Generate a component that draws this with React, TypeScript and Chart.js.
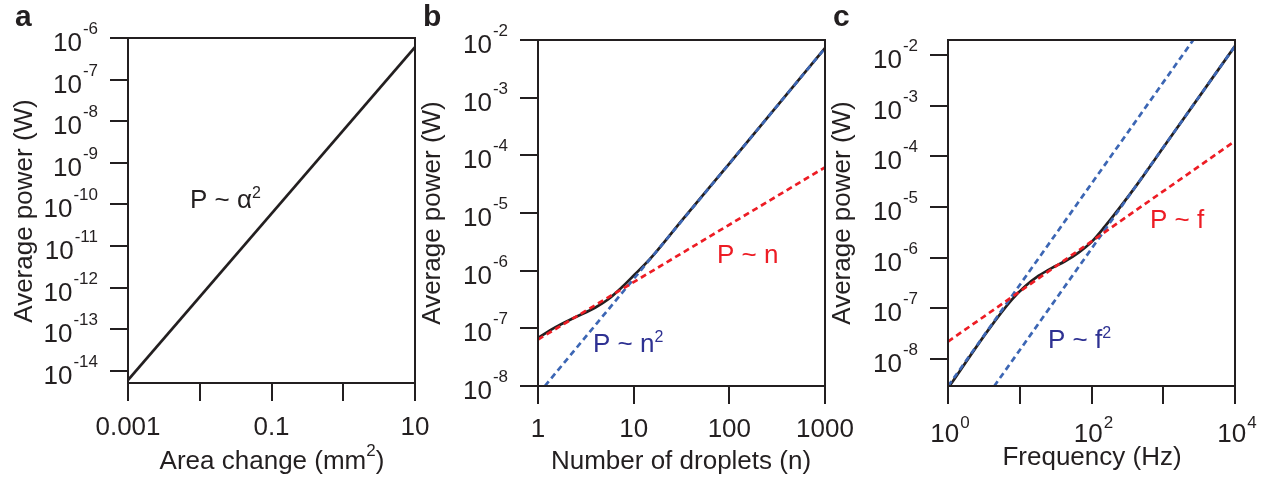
import React, { useEffect, useRef } from 'react';
import { Chart, registerables } from 'chart.js';

Chart.register(...registerables);

const W = 1270;
const H = 481;
const FONT = '"Liberation Sans", Arial, Helvetica, sans-serif';
const INK = '#231f20';
const RED = '#ed1c24';
const BLUE_LINE = '#3c66b4';
const BLUE_TEXT = '#2e3192';

// ---------- Panel a: Area change ----------
const areaChange = [0.001, 10];
const areaPower = [6e-15, 6e-7];
const areaXTicks = [0.001, 0.01, 0.1, 1, 10];
const areaXLabels = ['0.001', '', '0.1', '', '10'];
const areaYTicks = [1e-14, 1e-13, 1e-12, 1e-11, 1e-10, 1e-9, 1e-8, 1e-7, 1e-6];
const areaYExps = ['-14', '-13', '-12', '-11', '-10', '-9', '-8', '-7', '-6'];

// ---------- Panel b: Number of droplets ----------
const dropletN = [1, 1.51, 2.45, 3.98, 5.43, 7.48, 10.2, 13, 16.6, 31.6, 100, 1000];
const dropletPower = [6.8e-8, 1.04e-7, 1.56e-7, 2.3e-7, 3.2e-7, 5.1e-7, 8.5e-7, 1.27e-6, 1.98e-6, 7.3e-6, 7.2e-5, 7.2e-3];
const dropletLinN = [1, 1000];
const dropletLinP = [6.4e-8, 6.2e-5];
const dropletSqN = [1.18, 1000];
const dropletSqP = [1e-8, 7.2e-3];
const dropletXTicks = [1, 10, 100, 1000];
const dropletXLabels = ['1', '10', '100', '1000'];
const dropletYTicks = [1e-8, 1e-7, 1e-6, 1e-5, 1e-4, 1e-3, 1e-2];
const dropletYExps = ['-8', '-7', '-6', '-5', '-4', '-3', '-2'];

// ---------- Panel c: Frequency ----------
const freq = [1.08, 3.68, 7.82, 12, 18.4, 28.2, 43.3, 66, 102, 155, 240, 457, 1000, 10000];
const freqPower = [3.1e-9, 3.8e-8, 1.5e-7, 2.75e-7, 4.4e-7, 6.3e-7, 8.6e-7, 1.26e-6, 2.1e-6, 4.2e-6, 9.2e-6, 3.1e-5, 1.5e-4, 1.5e-2];
const freqLinF = [1, 10000];
const freqLinP = [2.2e-8, 2.0e-4];
const freqSq1F = [1, 2760];
const freqSq1P = [2.9e-9, 2.2e-2];
const freqSq2F = [4.4, 10000];
const freqSq2P = [2.9e-9, 1.5e-2];
const freqXTicks = [1, 10, 100, 1000, 10000];
const freqXExps = ['0', '', '2', '', '4'];
const freqYTicks = [1e-8, 1e-7, 1e-6, 1e-5, 1e-4, 1e-3, 1e-2];
const freqYExps = ['-8', '-7', '-6', '-5', '-4', '-3', '-2'];

type Box = { left: number; right: number; top: number; bottom: number };
type Part = { t: string; size: number; raise?: number; bold?: boolean; gap?: number };

const xy = (xs: number[], ys: number[]) => xs.map((x, i) => ({ x, y: ys[i] }));

function drawParts(ctx: CanvasRenderingContext2D, parts: Part[], x: number, y: number, color: string, align: 'left' | 'center' | 'right' = 'left') {
  ctx.save();
  ctx.fillStyle = color;
  ctx.textAlign = 'left';
  ctx.textBaseline = 'alphabetic';
  let total = 0;
  const widths = parts.map((p) => {
    ctx.font = `${p.bold ? 'bold ' : ''}${p.size}px ${FONT}`;
    const w = ctx.measureText(p.t).width + (p.gap || 0);
    total += w;
    return w;
  });
  let x0 = x;
  if (align === 'center') x0 = x - total / 2;
  if (align === 'right') x0 = x - total;
  let cx = x0;
  parts.forEach((p, i) => {
    ctx.font = `${p.bold ? 'bold ' : ''}${p.size}px ${FONT}`;
    ctx.fillText(p.t, cx + (p.gap || 0), y - (p.raise || 0));
    cx += widths[i];
  });
  ctx.restore();
}

const pow = (exp: string, main = 26, sup = 17, raise = 17): Part[] => [
  { t: '10', size: main },
  { t: exp, size: sup, raise, gap: 1 },
];

type Spec = {
  box: Box;
  xMin: number; xMax: number; yMin: number; yMax: number;
  xTicks: number[]; yTicks: number[];
  datasets: any[];
  decorate: (chart: any, ctx: CanvasRenderingContext2D) => void;
};

function buildChart(canvas: HTMLCanvasElement, spec: Spec) {
  const { box } = spec;
  const framePlugin = {
    id: 'frameAndText',
    afterDatasetsDraw(chart: any) {
      const ctx = chart.ctx as CanvasRenderingContext2D;
      const a = chart.chartArea;
      ctx.save();
      ctx.strokeStyle = INK;
      ctx.lineWidth = 2;
      ctx.strokeRect(a.left, a.top, a.right - a.left, a.bottom - a.top);
      ctx.restore();
    },
    afterDraw(chart: any) {
      spec.decorate(chart, chart.ctx);
    },
  };
  return new Chart(canvas, {
    type: 'line',
    data: { datasets: spec.datasets },
    options: {
      responsive: false,
      maintainAspectRatio: false,
      animation: false,
      events: [],
      layout: { padding: { left: box.left - 20, right: W - box.right, top: box.top, bottom: 0 } },
      plugins: { legend: { display: false }, tooltip: { enabled: false }, title: { display: false } },
      elements: { point: { radius: 0 } },
      scales: {
        x: {
          type: 'logarithmic',
          min: spec.xMin,
          max: spec.xMax,
          bounds: 'data',
          grid: { display: true, drawOnChartArea: false, drawTicks: true, tickLength: 18, color: INK, lineWidth: 2 },
          border: { display: false },
          ticks: { display: false },
          afterBuildTicks: (s: any) => { s.ticks = spec.xTicks.map((v) => ({ value: v })); },
          afterFit: (s: any) => { s.height = H - box.bottom; },
        },
        y: {
          type: 'logarithmic',
          min: spec.yMin,
          max: spec.yMax,
          bounds: 'data',
          grid: { display: true, drawOnChartArea: false, drawTicks: true, tickLength: 18, color: INK, lineWidth: 2 },
          border: { display: false },
          ticks: { display: false },
          afterBuildTicks: (s: any) => { s.ticks = spec.yTicks.map((v) => ({ value: v })); },
          afterFit: (s: any) => { s.width = 20; },
        },
      },
    } as any,
    plugins: [framePlugin],
  });
}

const solid = (data: any[]) => ({ data, borderColor: INK, borderWidth: 2.7, pointRadius: 0, fill: false, cubicInterpolationMode: 'monotone', order: 2 });
const dashed = (data: any[], color: string) => ({ data, borderColor: color, borderWidth: 2.7, borderDash: [6, 4], pointRadius: 0, fill: false, order: 1 });

function yTitle(ctx: CanvasRenderingContext2D, cx: number, cy: number) {
  ctx.save();
  ctx.translate(cx + 6.8, cy);
  ctx.rotate(-Math.PI / 2);
  drawParts(ctx, [{ t: 'Average power (W)', size: 26 }], 0, 0, INK, 'center');
  ctx.restore();
}

function yLabels(chart: any, ctx: CanvasRenderingContext2D, ticks: number[], exps: string[]) {
  const s = chart.scales.y;
  const xr = chart.chartArea.left - 30;
  ticks.forEach((v, i) => {
    const y = s.getPixelForValue(v);
    drawParts(ctx, pow(exps[i]), xr, y + 13, INK, 'right');
  });
}

const specA: Spec = {
  box: { left: 128, right: 415, top: 38, bottom: 383 },
  xMin: 0.001, xMax: 10, yMin: 5.1e-15, yMax: 1e-6,
  xTicks: areaXTicks, yTicks: areaYTicks,
  datasets: [solid(xy(areaChange, areaPower))],
  decorate: (chart, ctx) => {
    yLabels(chart, ctx, areaYTicks, areaYExps);
    const sx = chart.scales.x;
    areaXTicks.forEach((v, i) => {
      if (areaXLabels[i]) drawParts(ctx, [{ t: areaXLabels[i], size: 26 }], sx.getPixelForValue(v), 435, INK, 'center');
    });
    drawParts(ctx, [{ t: 'Area change (mm', size: 26 }, { t: '2', size: 17, raise: 13 }, { t: ')', size: 26 }], 272, 469, INK, 'center');
    yTitle(ctx, 25, 211);
    drawParts(ctx, [{ t: 'a', size: 30, bold: true }], 15, 26, INK);
    drawParts(ctx, [{ t: 'P ~ α', size: 26 }, { t: '2', size: 16, raise: 10 }], 190, 208, INK, 'left');
  },
};

const specB: Spec = {
  box: { left: 538, right: 825, top: 40, bottom: 386 },
  xMin: 1, xMax: 1000, yMin: 1e-8, yMax: 1e-2,
  xTicks: dropletXTicks, yTicks: dropletYTicks,
  datasets: [
    solid(xy(dropletN, dropletPower)),
    dashed(xy(dropletLinN, dropletLinP), RED),
    dashed(xy(dropletSqN, dropletSqP), BLUE_LINE),
  ],
  decorate: (chart, ctx) => {
    yLabels(chart, ctx, dropletYTicks, dropletYExps);
    const sx = chart.scales.x;
    dropletXTicks.forEach((v, i) => {
      drawParts(ctx, [{ t: dropletXLabels[i], size: 26 }], sx.getPixelForValue(v), 437, INK, 'center');
    });
    drawParts(ctx, [{ t: 'Number of droplets (n)', size: 26 }], 681, 469, INK, 'center');
    yTitle(ctx, 433, 213);
    drawParts(ctx, [{ t: 'b', size: 30, bold: true }], 423, 26, INK);
    drawParts(ctx, [{ t: 'P ~ n', size: 26 }], 717, 263, RED, 'left');
    drawParts(ctx, [{ t: 'P ~ n', size: 26 }, { t: '2', size: 16, raise: 10 }], 593, 352, BLUE_TEXT, 'left');
  },
};

const specC: Spec = {
  box: { left: 948, right: 1235, top: 40, bottom: 386 },
  xMin: 1, xMax: 10000, yMin: 2.93e-9, yMax: 1.98e-2,
  xTicks: freqXTicks, yTicks: freqYTicks,
  datasets: [
    solid(xy(freq, freqPower)),
    dashed(xy(freqLinF, freqLinP), RED),
    dashed(xy(freqSq1F, freqSq1P), BLUE_LINE),
    dashed(xy(freqSq2F, freqSq2P), BLUE_LINE),
  ],
  decorate: (chart, ctx) => {
    yLabels(chart, ctx, freqYTicks, freqYExps);
    const sx = chart.scales.x;
    freqXTicks.forEach((v, i) => {
      if (freqXExps[i]) drawParts(ctx, pow(freqXExps[i], 26, 17, 14), sx.getPixelForValue(v) + 2, 442, INK, 'center');
    });
    drawParts(ctx, [{ t: 'Frequency (Hz)', size: 26 }], 1092, 465, INK, 'center');
    yTitle(ctx, 843, 213);
    drawParts(ctx, [{ t: 'c', size: 30, bold: true }], 833, 26, INK);
    drawParts(ctx, [{ t: 'P ~ f', size: 26 }], 1150, 228, RED, 'left');
    drawParts(ctx, [{ t: 'P ~ f', size: 26 }, { t: '2', size: 16, raise: 10 }], 1048, 348, BLUE_TEXT, 'left');
  },
};

function Panel({ spec }: { spec: Spec }) {
  const ref = useRef<HTMLCanvasElement | null>(null);
  useEffect(() => {
    if (!ref.current) return;
    const chart = buildChart(ref.current, spec);
    return () => chart.destroy();
  }, [spec]);
  return <canvas ref={ref} width={W} height={H} style={{ position: 'absolute', left: 0, top: 0, width: W, height: H }} />;
}

export default function App() {
  return (
    <div style={{ position: 'fixed', left: 0, top: 0, width: W, height: H, background: '#ffffff', overflow: 'hidden' }}>
      <Panel spec={specA} />
      <Panel spec={specB} />
      <Panel spec={specC} />
    </div>
  );
}
